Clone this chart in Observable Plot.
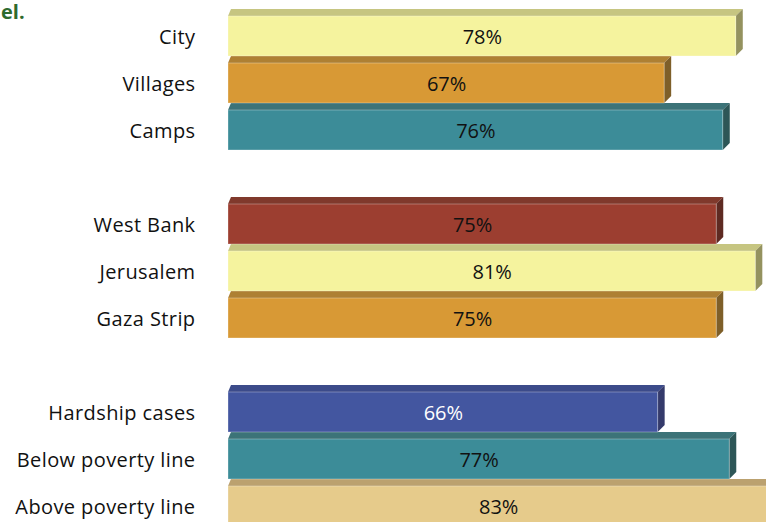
<!DOCTYPE html>
<html>
<head>
<meta charset="utf-8">
<script src="https://cdn.jsdelivr.net/npm/d3@7"></script>
<script src="https://cdn.jsdelivr.net/npm/@observablehq/plot@0.6"></script>
<style>
  html, body { margin: 0; padding: 0; background: #fff; overflow: hidden; }
  #wrap { position: relative; width: 766px; height: 522px; }
  #title { position: absolute; left: 1px; top: 0px; font: bold 20px/24px "Open Sans", sans-serif; color: #2e6a2e; z-index: 2; }
  .lbl text { letter-spacing: 0.4px; }
</style>
</head>
<body>
<div id="wrap"><div id="title">el.</div><div id="chart"></div></div>
<script>
// ---- data ----
const categories = ["City", "Villages", "Camps", "gap1", "West Bank", "Jerusalem", "Gaza Strip", "gap2", "Hardship cases", "Below poverty line", "Above poverty line"];
const values = [78, 67, 76, null, 75, 81, 75, null, 66, 77, 83];
const valueLabels = ["78%", "67%", "76%", "", "75%", "81%", "75%", "", "66%", "77%", "83%"];

// ---- style palettes (front, top, side) ----
const frontColors = ["#f5f39e", "#d89935", "#3c8c98", null, "#9c3e30", "#f5f39e", "#d89935", null, "#4356a0", "#3c8c98", "#e6cb8b"];
const topColors   = ["#c6c581", "#ae8033", "#3c7378", null, "#80392c", "#c6c581", "#ae8033", null, "#3c4b8a", "#3c7378", "#bba16f"];
const sideColors  = ["#94925f", "#7e5f29", "#2d5657", null, "#5e2a22", "#94925f", "#7e5f29", null, "#343a6b", "#2d5657", "#8f7a52"];
const labelColors = ["#111", "#111", "#111", null, "#111", "#111", "#111", null, "#fff", "#111", "#111"];

const rows = categories.map((c, i) => ({key: c, value: values[i], label: valueLabels[i], front: frontColors[i], top: topColors[i], side: sideColors[i], lc: labelColors[i]}))
  .filter(d => d.value != null);

const DX = 7, DY = 7;

function bandwidthOf(scales) {
  const s = scales.scales && scales.scales.y;
  if (s) {
    if (typeof s.bandwidth === "number") return s.bandwidth;
    if (s.scale && typeof s.scale.bandwidth === "function") return s.scale.bandwidth();
  }
  if (scales.y && typeof scales.y.bandwidth === "function") return scales.y.bandwidth();
  if (scales.y && typeof scales.y.bandwidth === "number") return scales.y.bandwidth;
  return 47.15;
}

const chart = Plot.plot({
  width: 766,
  height: 522,
  marginLeft: 228,
  marginRight: 0,
  marginTop: 0,
  marginBottom: 0,
  style: {background: "transparent", overflow: "visible"},
  x: {domain: [0, 100], range: [228, 879], axis: null},
  y: {domain: categories, range: [8.3, 527], padding: 0, axis: null},
  marks: [
    Plot.barX(rows, {
      x: "value",
      y: "key",
      fill: "front",
      insetTop: DY,
      stroke: "#ffffff",
      strokeOpacity: 0.3,
      strokeWidth: 1,
      render(index, scales, vals, dimensions, context, next) {
        const front = next(index, scales, vals, dimensions, context);
        const bw = bandwidthOf(scales);
        const g = d3.create("svg:g");
        for (const i of index) {
          const x0 = vals.x1[i], x1 = vals.x2[i];
          const yt = vals.y[i] + DY, yb = vals.y[i] + bw;
          g.append("path")
            .attr("d", `M${x0},${yt}L${x0 + 3},${yt - DY}L${x1 + DX},${yt - DY}L${x1},${yt}Z`)
            .attr("fill", rows[i].top);
          g.append("path")
            .attr("d", `M${x1},${yt}L${x1 + DX},${yt - DY}L${x1 + DX},${yb - DY}L${x1},${yb}Z`)
            .attr("fill", rows[i].side);
        }
        g.append(() => front);
        return g.node();
      }
    }),
    Plot.text(rows, {
      x: d => d.value / 2,
      y: "key",
      text: "label",
      fill: "lc",
      dy: 5,
      fontSize: 20,
      fontFamily: "Open Sans"
    }),
    Plot.text(rows, {
      x: 0,
      y: "key",
      text: "key",
      textAnchor: "end",
      dx: -33,
      dy: 5,
      fill: "#111",
      fontSize: 20,
      fontFamily: "Open Sans",
      className: "lbl"
    })
  ]
});
document.getElementById("chart").appendChild(chart);
</script>
</body>
</html>
